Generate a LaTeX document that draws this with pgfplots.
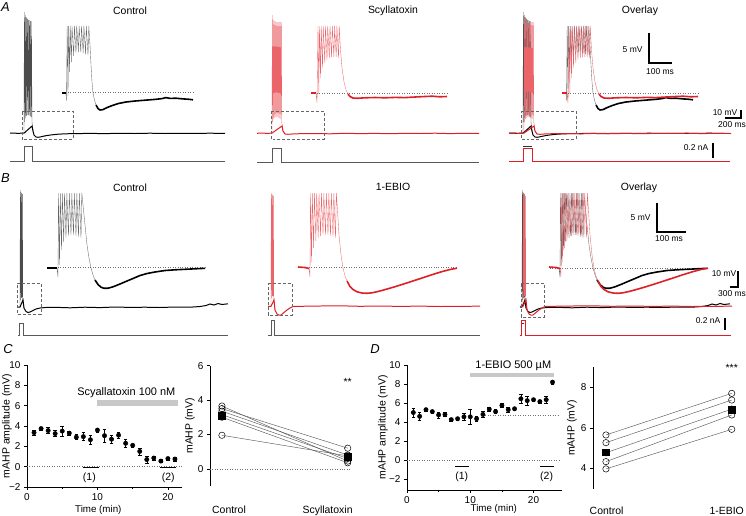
\documentclass[border=0pt]{standalone}
\usepackage{fontspec}
\setmainfont{Liberation Sans}
\usepackage{pgfplots}
\pgfplotsset{compat=1.18}
\usepackage{pgfplotstable}

\definecolor{mred}{RGB}{221,32,39}
\definecolor{lred}{RGB}{234,100,105}
\definecolor{bargray}{RGB}{200,200,200}

% ---------- traces, in pixel units of the figure (x right, y down) ----------
% A, control, full trace
\pgfplotstableread{
x y
10 133.2
14 133.0
18 133.4
22 133.1
24 133.2
32 126
33 131
34 135
36 137
38 137.3
40 137
43 136.3
47 135.5
52 134.8
58 134.2
65 133.8
75 133.6
90 133.4
105 133.6
120 133.3
135 133.5
150 133.2
165 133.5
180 133.3
195 133.4
210 133.2
225 133.4
}\AmCln
\pgfplotstableread{
x y
24 133
24.3 12
24.8 122
25.2 15
25.7 118
26.1 17
26.6 116
27.0 18
27.5 115
27.9 19
28.4 115
28.8 20
29.3 115
29.7 20
30.2 116
30.6 21
31.1 117
31.5 21
32.0 122
33 131
}\AmCsp
% A, scyllatoxin, full trace
\pgfplotstableread{
x y
257 133.3
262 133.0
267 133.4
272 133.1
282 126
283 131
285 134
288 134.3
292 134
300 133.7
315 133.5
330 133.8
345 133.3
360 133.6
375 133.4
390 133.7
405 133.3
420 133.5
435 133.2
450 133.6
465 133.3
479 133.5
}\AmSln
\pgfplotstableread{
x y
272 133
272.3 15
272.8 122
273.3 20
273.8 119
274.3 21
274.8 118
275.3 21
275.8 117
276.3 22
276.8 117
277.3 22
277.8 117
278.3 22
278.8 118
279.3 22
279.8 118
280.3 22
280.8 119
281.3 22
281.8 122
283 131
}\AmSsp
% A, control, inset
\pgfplotstableread{
x y
66 93
66.5 101
67.2 26
68 96
68.6 26
69.6 72
70.2 26
71.4 62
72 26
73.7 56
74.4 26
76 53
76.7 26
78.4 52
79.1 26
80.8 52
81.5 26
83.2 53
83.9 26
85.6 54
86.3 26
88 55
88.8 26
90 45
91 65
92 82
93 93
94.5 100
96 105
}\AiCsp
\pgfplotstableread{
x y
96 105
98 108.5
100 110
103 109.6
107 107.6
112 105.6
118 103.6
126 102
135 101
145 100.2
155 99.4
162 98.6
166 97.6
170 98.4
176 98.2
183 98.9
188 99.2
193 99.8
}\AiCtl
% A, scyllatoxin, inset
\pgfplotstableread{
x y
316 93
317 103
318 26
318.8 94
319.5 26
320.5 78
321.2 26
322.5 68
323.2 26
324.8 63
325.5 26
327 60
327.7 26
329.3 58
330 26
331.6 57
332.3 26
333.9 57
334.6 26
336.2 57
336.9 26
338.5 58
339.2 26
340.5 50
342 68
344 82
346 90
348 94
}\AiSsp
\pgfplotstableread{
x y
348 94
350 96.5
353 98
357 98.3
365 97.8
375 97.5
385 97.8
395 97.4
405 97.6
415 97
425 96.5
432 96.2
440 96.8
447 96.5
}\AiStl
% B, control, full trace
\pgfplotstableread{
x y
18 307.2
20 307
23 300
24 308
26 311.5
28 312.5
30 312
33 310.5
36 309
40 308
45 307.5
55 307.3
70 307.8
85 307.2
100 307.6
115 307.0
130 307.4
145 307.2
160 307.5
175 307.0
190 307.2
200 306.5
206 305.5
210 304
214 305
218 303.5
222 304.5
228 303.8
}\BmCln
\pgfplotstableread{
x y
20 307
20.3 190
20.7 300
21.0 192
21.4 298
21.7 193
22.1 297
22.4 194
22.8 299
23.2 303
24 308
}\BmCsp
% B, control, inset
\pgfplotstableread{
x y
57 268
58 277
58.5 193
59.5 265
60.3 193
61.5 250
62.3 193
63.7 242
64.5 193
66 238
66.8 193
68.5 236
69.3 193
71 235
71.8 193
73.5 235
74.3 193
76 236
76.8 193
78.5 237
79.3 193
81 238
81.8 193
83 205
85 225
87 245
89 258
91 268
93 275
95 280
}\BiCsp
\pgfplotstableread{
x y
95 280
98 284.5
101 287.2
104 288.3
108 288.2
113 286.8
120 284
127 281
133 278.5
140 275.5
147 273.5
155 272
165 270.5
175 269.8
185 269.3
195 268.8
205 268.3
}\BiCtl
% B, 1-EBIO, full trace
\pgfplotstableread{
x y
268 306.5
271 306.3
274 300
275 310
277 314
279 315.2
281 315
284 312.5
287 310
290 308
293 306.5
300 306.3
320 306.0
340 305.8
360 306.3
380 306.0
400 306.4
420 306.1
440 306.5
460 306.3
480 306.2
}\BmEln
\pgfplotstableread{
x y
271 306.3
271.3 193
271.7 298
272.0 194
272.4 296
272.7 195
273.1 296
273.4 196
273.8 298
274.2 302
275 310
}\BmEsp
% B, 1-EBIO, inset
\pgfplotstableread{
x y
309 268.5
310 277
310.5 193
311.5 262
312.3 193
313.6 248
314.4 193
315.9 241
316.7 193
318.2 238
319 193
320.6 236
321.4 193
323 235
323.8 193
325.5 235
326.3 193
328 235
328.8 193
330.5 236
331.3 193
333 237
333.8 193
335.5 238
336.3 193
337.5 210
339 235
341 255
343 268
345 276
347 281
}\BiEsp
\pgfplotstableread{
x y
347 281
350 286.5
353 289.5
357 291.8
362 293
367 293.3
372 292.8
378 291.5
385 289.6
393 287.3
402 284.5
412 281.3
422 278
432 274.7
442 271.6
450 269.5
457 268.2
}\BiEtl

% ---------- summary data ----------
\pgfplotstableread{
t y e
1 3.35 0.25
2 3.75 0.12
3 3.55 0.30
4 3.25 0.30
5 3.50 0.50
6 3.30 0.20
7 2.90 0.25
8 2.95 0.40
9 2.65 0.45
10 3.60 0.20
11 3.05 0.65
12 2.70 0.35
13 3.10 0.30
14 2.30 0.35
15 2.10 0.15
16 1.50 0.35
17 0.70 0.35
18 0.85 0.20
19 0.55 0.15
20 0.80 0.15
21 0.75 0.20
}\Ctime
\pgfplotstableread{
t y e
1 5.00 0.45
2 4.60 0.40
3 5.30 0.15
4 5.10 0.15
5 4.75 0.30
6 4.80 0.20
7 4.25 0.15
8 4.35 0.15
9 4.55 0.35
10 4.55 0.75
11 4.35 0.30
12 4.80 0.30
13 5.35 0.20
14 5.10 0.20
15 5.75 0.20
16 5.30 0.25
17 5.40 0.20
18 6.45 0.50
19 6.25 0.45
20 6.35 0.20
21 6.15 0.15
22 6.35 0.35
23 8.20 0.20
}\Dtime

\tikzset{
  tl/.style={font=\fontsize{10.5}{12}\selectfont},
  sb/.style={font=\fontsize{8.5}{10}\selectfont},
  pl/.style={font=\fontsize{13}{14}\selectfont\itshape},
  dotl/.style={black!55, dotted, line width=0.5pt},
  dbox/.style={black!60, densely dashed, line width=0.5pt},
  stim/.style={black!65, line width=0.5pt},
  sbar/.style={black, line width=1.1pt},
}
\pgfplotsset{
  panel/.style={scale only axis, axis lines=left,
    axis line style={-, line width=0.5pt},
    tick style={black, line width=0.5pt}, tick align=outside,
    major tick length=3bp, minor tick length=2bp,
    ticklabel style={font=\fontsize{10}{12}\selectfont},
    /pgf/number format/assume math mode=true,
    label style={font=\fontsize{10.5}{12}\selectfont},
    xlabel style={font=\fontsize{9.8}{11}\selectfont},
    clip=false},
}

\begin{document}
\begin{tikzpicture}
% canvas for the traces
\begin{axis}[name=canvas, at={(0,0)}, anchor=north west, scale only axis,
  width=746bp, height=516bp, xmin=0, xmax=746, ymin=0, ymax=516,
  y dir=reverse, axis lines=none, clip=false]

% ===== row A =====
\node[pl] at (axis cs:5.5,7.5) {A};
\node[tl] at (axis cs:130,11) {Control};
\node[tl] at (axis cs:393,11) {Scyllatoxin};
\node[tl] at (axis cs:640,11) {Overlay};

% control
\addplot[black!70, line width=0.35pt] table[x=x,y=y] {\AmCsp};
\addplot[black, line width=1pt] table[x=x,y=y] {\AmCln};
\addplot[dbox] coordinates {(22,111)(73,111)(73,139)(22,139)(22,111)};
\addplot[stim] coordinates {(10,161)(24,161)(24,146)(32,146)(32,161)(225,161)};
\addplot[dotl] coordinates {(63,92.7)(193,92.7)};
\addplot[black!60, line width=0.35pt] table[x=x,y=y] {\AiCsp};
\addplot[black, line width=1.6pt] table[x=x,y=y] {\AiCtl};
\addplot[black, line width=2pt] coordinates {(62,93)(66,93)};

% scyllatoxin
\addplot[lred, line width=0.35pt] table[x=x,y=y] {\AmSsp};
\addplot[mred, line width=1pt] table[x=x,y=y] {\AmSln};
\addplot[dbox] coordinates {(271,111)(324,111)(324,139)(271,139)(271,111)};
\addplot[stim] coordinates {(257,162)(272,162)(272,148)(281,148)(281,162)(479,162)};
\addplot[dotl] coordinates {(312,93)(447,93)};
\addplot[lred, line width=0.35pt] table[x=x,y=y] {\AiSsp};
\addplot[mred, line width=1.6pt] table[x=x,y=y] {\AiStl};
\addplot[mred, line width=2pt] coordinates {(311,93)(316,93)};

% overlay
\addplot[black!70, line width=0.35pt] table[x expr=\thisrow{x}+499,y=y] {\AmCsp};
\addplot[black, line width=1pt] table[x expr=\thisrow{x}+499,y=y] {\AmCln};
\addplot[lred, line width=0.35pt] table[x expr=\thisrow{x}+252,y=y] {\AmSsp};
\addplot[mred, line width=1pt] table[x expr=\thisrow{x}+252,y=y] {\AmSln};
\addplot[dbox] coordinates {(521,111)(576,111)(576,139)(521,139)(521,111)};
\addplot[black!80, line width=0.5pt] coordinates {(523,146)(532,146)};
\addplot[mred, line width=0.5pt] coordinates {(509,161)(523,161)(523,148)(532,148)(532,161)(730,161)};
\addplot[dotl] coordinates {(563,93)(698,93)};
\addplot[black!60, line width=0.35pt] table[x expr=\thisrow{x}+500,y=y] {\AiCsp};
\addplot[black, line width=1.6pt] table[x expr=\thisrow{x}+500,y=y] {\AiCtl};
\addplot[lred, line width=0.35pt] table[x expr=\thisrow{x}+251,y=y] {\AiSsp};
\addplot[mred, line width=1.6pt] table[x expr=\thisrow{x}+251,y=y] {\AiStl};
\addplot[mred, line width=2pt] coordinates {(562,93)(567,93)};

% scale bars A
\addplot[sbar] coordinates {(649,33)(649,63)(672,63)};
\node[sb, anchor=east] at (axis cs:646,50) {5 mV};
\node[sb] at (axis cs:660,72) {100 ms};
\addplot[sbar] coordinates {(741,110)(741,118)(725,118)};
\node[sb] at (axis cs:725,113) {10 mV};
\node[sb] at (axis cs:732,124.5) {200 ms};
\addplot[sbar] coordinates {(713,143)(713,158)};
\node[sb] at (axis cs:696,148) {0.2 nA};

% ===== row B =====
\node[pl] at (axis cs:5.5,178.5) {B};
\node[tl] at (axis cs:130,188) {Control};
\node[tl] at (axis cs:393,187) {1-EBIO};
\node[tl] at (axis cs:639,188) {Overlay};

% control
\addplot[black!70, line width=0.35pt] table[x=x,y=y] {\BmCsp};
\addplot[black, line width=1pt] table[x=x,y=y] {\BmCln};
\addplot[dbox] coordinates {(17,283)(41,283)(41,314)(17,314)(17,283)};
\addplot[stim] coordinates {(18,335)(19,335)(19,323)(23,323)(23,335)(228,335)};
\addplot[dotl] coordinates {(48,267.5)(205,267.5)};
\addplot[black!60, line width=0.35pt] table[x=x,y=y] {\BiCsp};
\addplot[black, line width=1.6pt] table[x=x,y=y] {\BiCtl};
\addplot[black, line width=1.6pt] coordinates {(47,268)(57,268)};

% 1-EBIO
\addplot[lred, line width=0.35pt] table[x=x,y=y] {\BmEsp};
\addplot[mred, line width=1pt] table[x=x,y=y] {\BmEln};
\addplot[dbox] coordinates {(268,283)(292,283)(292,315)(268,315)(268,283)};
\addplot[stim] coordinates {(268,335)(271,335)(271,320)(274,320)(274,335)(480,335)};
\addplot[dotl] coordinates {(299,267)(457,267)};
\addplot[lred, line width=0.35pt] table[x=x,y=y] {\BiEsp};
\addplot[mred, line width=1.6pt] table[x=x,y=y] {\BiEtl};
\addplot[mred, line width=1.6pt] coordinates {(298,267)(305,267.5)(309,268.5)};

% overlay
\addplot[black!70, line width=0.35pt] table[x expr=\thisrow{x}+502,y=y] {\BmCsp};
\addplot[black, line width=1pt] table[x expr=\thisrow{x}+502,y=y] {\BmCln};
\addplot[lred, line width=0.35pt] table[x expr=\thisrow{x}+252,y=y] {\BmEsp};
\addplot[mred, line width=1pt] table[x expr=\thisrow{x}+252,y=y] {\BmEln};
\addplot[dbox] coordinates {(521,283)(544,283)(544,317)(521,317)(521,283)};
\addplot[black!80, line width=0.5pt] coordinates {(521,323)(524,323)};
\addplot[mred, line width=0.5pt] coordinates {(520,335)(521,335)(521,320)(525,320)(525,335)(731,335)};
\addplot[dotl] coordinates {(550,268)(708,268)};
\addplot[black!60, line width=0.35pt] table[x expr=\thisrow{x}+502,y=y] {\BiCsp};
\addplot[black, line width=1.6pt] table[x expr=\thisrow{x}+502,y=y] {\BiCtl};
\addplot[lred, line width=0.35pt] table[x expr=\thisrow{x}+251,y=y] {\BiEsp};
\addplot[mred, line width=1.6pt] table[x expr=\thisrow{x}+251,y=y] {\BiEtl};
\addplot[mred, line width=1.6pt] coordinates {(549,267)(556,267.5)(560,268.5)};

% scale bars B
\addplot[sbar] coordinates {(657,203)(657,232)(686,232)};
\node[sb, anchor=east] at (axis cs:654,218) {5 mV};
\node[sb] at (axis cs:669,239) {100 ms};
\addplot[sbar] coordinates {(738,271)(738,287)(730,287)};
\node[sb] at (axis cs:724,274) {10 mV};
\node[sb] at (axis cs:732,293.5) {300 ms};
\addplot[sbar] coordinates {(725,318)(725,330)};
\node[sb] at (axis cs:708,321) {0.2 nA};

\node[pl] at (axis cs:8,349) {C};
\node[pl] at (axis cs:375,349) {D};
\end{axis}

% ===== C, time course =====
\begin{axis}[panel, at={(27bp,-487bp)}, anchor=south west,
  width=155bp, height=122bp, xmin=0, xmax=22, ymin=-2, ymax=10,
  xtick={0,10,20}, minor xtick={5,15},
  ytick={-2,0,2,4,6,8,10}, yticklabels={−2,0,2,4,6,8,10},
  xlabel={Time (min)}, ylabel={mAHP amplitude (mV)},
  xlabel style={at={(axis description cs:0.46,-0.19)}, anchor=center},
  ylabel style={at={(axis description cs:-0.129,0.5)}, anchor=center}]
\addplot[dotl] coordinates {(0,0)(22,0)};
\addplot[fill=bargray, draw=none] coordinates {(10,6.0)(21.5,6.0)(21.5,6.6)(10,6.6)} -- cycle;
\node[tl, font=\fontsize{11}{12}\selectfont] at (axis cs:14.1,7.3) {Scyallatoxin 100 nM};
\addplot[black, line width=0.6pt] coordinates {(7.9,-0.07)(10.2,-0.07)};
\addplot[black, line width=0.6pt] coordinates {(18.9,-0.07)(21.2,-0.07)};
\node[tl] at (axis cs:8.85,-1.05) {(1)};
\node[tl] at (axis cs:20.05,-1.05) {(2)};
\addplot[only marks, mark=*, mark size=2.2bp, black,
  error bars/.cd, y dir=both, y explicit,
  error bar style={line width=0.5pt},
  error mark options={rotate=90, mark size=1.8bp, line width=0.5pt}]
  table[x=t, y=y, y error=e] {\Ctime};
\end{axis}

% ===== C, paired =====
\begin{axis}[panel, at={(210bp,-486bp)}, anchor=south west,
  width=144bp, height=120.4bp, xmin=-0.095, xmax=1.05, ymin=-1, ymax=6,
  ytick={0,2,4,6}, xtick={0.056,0.84}, xticklabels={Control,Scyllatoxin},
  x axis line style={draw=none}, xtick style={draw=none},
  xticklabel style={yshift=-13bp, font=\fontsize{10.5}{12}\selectfont},
  ylabel={mAHP (mV)},
  ylabel style={at={(axis description cs:-0.139,0.5)}, anchor=center}]
\addplot[dotl] coordinates {(-0.095,0)(1.02,0)};
\addplot[black!65, line width=0.45pt] coordinates {(0,3.65)(1,0.45)};
\addplot[black!65, line width=0.45pt] coordinates {(0,3.50)(1,1.20)};
\addplot[black!65, line width=0.45pt] coordinates {(0,3.35)(1,0.80)};
\addplot[black!65, line width=0.45pt] coordinates {(0,3.15)(1,0.60)};
\addplot[black!65, line width=0.45pt] coordinates {(0,3.00)(1,0.35)};
\addplot[black!65, line width=0.45pt] coordinates {(0,1.95)(1,0.75)};
\addplot[only marks, mark=o, mark size=3.2bp, black, mark options={fill=white, line width=0.5pt}]
  coordinates {(0,3.65)(0,3.50)(0,3.35)(0,3.15)(0,3.00)(0,1.95)
               (1,0.45)(1,1.20)(1,0.80)(1,0.60)(1,0.35)(1,0.75)};
\addplot[only marks, mark=square*, mark size=3.4bp, black] coordinates {(0,3.1)(1,0.69)};
\node[tl] at (axis cs:1,5.06) {**};
\end{axis}

% ===== D, time course =====
\begin{axis}[panel, at={(407bp,-490bp)}, anchor=south west,
  width=155bp, height=125bp, xmin=0, xmax=24.5, ymin=-3.15, ymax=10,
  xtick={0,10,20}, minor xtick={5,15},
  ytick={-2,0,2,4,6,8,10}, yticklabels={−2,0,2,4,6,8,10},
  xlabel={Time (min)}, ylabel={mAHP amplitude (mV)},
  xlabel style={at={(axis description cs:0.56,-0.15)}, anchor=center},
  ylabel style={at={(axis description cs:-0.155,0.5)}, anchor=center}]
\addplot[dotl] coordinates {(0,0)(24.2,0)};
\addplot[dotl] coordinates {(12,4.7)(24.2,4.7)};
\addplot[fill=bargray, draw=none] coordinates {(10,8.7)(23.2,8.7)(23.2,9.2)(10,9.2)} -- cycle;
\node[tl, font=\fontsize{11}{12}\selectfont] at (axis cs:16.8,9.95) {1-EBIO 500 µM};
\addplot[black, line width=0.6pt] coordinates {(7.6,-0.7)(9.8,-0.7)};
\addplot[black, line width=0.6pt] coordinates {(21.0,-0.7)(23.2,-0.7)};
\node[tl] at (axis cs:8.65,-1.76) {(1)};
\node[tl] at (axis cs:22.07,-1.76) {(2)};
\addplot[only marks, mark=*, mark size=2.2bp, black,
  error bars/.cd, y dir=both, y explicit,
  error bar style={line width=0.5pt},
  error mark options={rotate=90, mark size=1.8bp, line width=0.5pt}]
  table[x=t, y=y, y error=e] {\Dtime};
\end{axis}

% ===== D, paired =====
\begin{axis}[panel, at={(593bp,-488.5bp)}, anchor=south west,
  width=145bp, height=121.2bp, xmin=-0.103, xmax=1.05, ymin=3, ymax=9,
  ytick={4,6,8}, xtick={0.005,0.96}, xticklabels={Control,1-EBIO},
  x axis line style={draw=none}, xtick style={draw=none},
  xticklabel style={yshift=-12bp, font=\fontsize{10.5}{12}\selectfont},
  ylabel={mAHP (mV)},
  ylabel style={at={(axis description cs:-0.145,0.5)}, anchor=center}]
\addplot[black!65, line width=0.45pt] coordinates {(0,5.65)(1,7.71)};
\addplot[black!65, line width=0.45pt] coordinates {(0,5.27)(1,7.38)};
\addplot[black!65, line width=0.45pt] coordinates {(0,4.77)(1,6.93)};
\addplot[black!65, line width=0.45pt] coordinates {(0,4.33)(1,6.64)};
\addplot[black!65, line width=0.45pt] coordinates {(0,3.97)(1,5.93)};
\addplot[only marks, mark=o, mark size=3.2bp, black, mark options={fill=white, line width=0.5pt}]
  coordinates {(0,5.65)(0,5.27)(0,4.77)(0,4.33)(0,3.97)
               (1,7.71)(1,7.38)(1,6.93)(1,6.64)(1,5.93)};
\addplot[only marks, mark=square*, mark size=3.4bp, black] coordinates {(0,4.80)(1,6.92)};
\node[tl] at (axis cs:1,8.97) {***};
\end{axis}

\pgfresetboundingbox
\path[use as bounding box] (0,0) rectangle (746bp,-516bp);
\end{tikzpicture}
\end{document}
